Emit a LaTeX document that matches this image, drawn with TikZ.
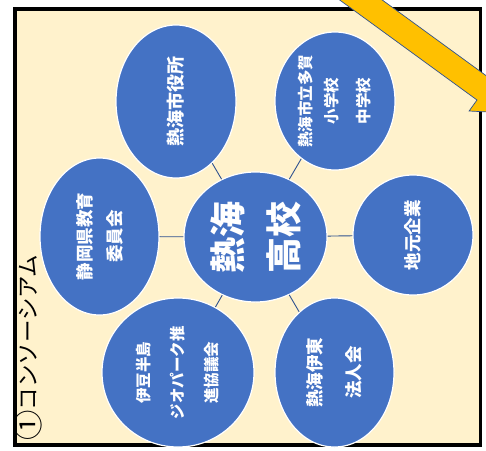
\documentclass[tikz,border=0pt]{standalone}
\usepackage{fontspec}
\usepackage{graphicx}
\newfontfamily\jp{Noto Sans CJK JP}
\usetikzlibrary{shapes.geometric}
\definecolor{ellblue}{HTML}{4472C4}
\definecolor{cream}{HTML}{FFF2CC}
\definecolor{gold}{HTML}{FFC000}
\definecolor{edgeblue}{HTML}{2F528F}
\tikzset{
  ell/.style={ellipse, fill=ellblue, draw=white, line width=1.2pt, inner sep=0pt,
    rotate=90, text=white, align=center},
  link/.style={draw=edgeblue, line width=0.9pt},
  frame/.style={fill=cream, draw=black, line width=3.4pt},
  bigarrow/.style={fill=gold, draw=edgeblue, line width=0.7pt, line join=miter}
}
\begin{document}
\begin{tikzpicture}[x=1pt,y=-1pt]
\useasboundingbox (0,0) rectangle (486,450);
\fill[white] (0,0) rectangle (486,450);
\draw[frame] (15,9) rectangle (480.5,444.8);

\node[ell, minimum width=153pt, minimum height=120pt,
  font=\jp\bfseries\fontsize{18}{20}\selectfont] (yakusho) at (176,101.5) {熱海市役所};
\node[ell, minimum width=138pt, minimum height=120pt,
  font=\jp\bfseries\fontsize{15.5}{26}\selectfont] (taga) at (335,101) {熱海市立多賀\\小学校\\[6pt]中学校};
\node[ell, minimum width=157pt, minimum height=119pt,
  font=\jp\bfseries\fontsize{17.5}{30}\selectfont] (kyoiku) at (99.5,236.5) {静岡県教育\\委員会};
\node[ell, minimum width=130pt, minimum height=143pt,
  font=\jp\bfseries\fontsize{36}{56}\selectfont] (koko) at (255.5,237) {熱海\\高校};
\node[ell, minimum width=120pt, minimum height=120pt,
  font=\jp\bfseries\fontsize{17.5}{20}\selectfont] (kigyo) at (413,235) {地元企業};
\node[ell, minimum width=149pt, minimum height=119pt,
  font=\jp\bfseries\fontsize{17.5}{39}\selectfont] (hojin) at (334.5,372.5) {熱海伊東\\法人会};
\node[ell, minimum width=149pt, minimum height=152pt,
  font=\jp\bfseries\fontsize{15.5}{34}\selectfont] (geo) at (178,372.5) {伊豆半島\\ジオパーク推\\進協議会};

\foreach \n in {yakusho,taga,kyoiku,kigyo,hojin,geo}
  \draw[link] (koko) -- (\n);

\node[rotate=90, anchor=west, inner sep=0pt, text=black,
  font=\jp\fontsize{22.5}{24}\selectfont] (label) at (27.5,441)
  {\raisebox{-0.1em}{\scalebox{1.35}{①}}コンソーシアム};

\begin{scope}
\clip (0,0) rectangle (486,450);
\draw[bigarrow] (315.0,-18.0) -- (477.0,100.0) -- (469.1,111.0) -- (516.8,113.5)
  -- (499.7,68.8) -- (491.8,79.8) -- (329.8,-38.2) -- cycle;
\end{scope}
\end{tikzpicture}
\end{document}
